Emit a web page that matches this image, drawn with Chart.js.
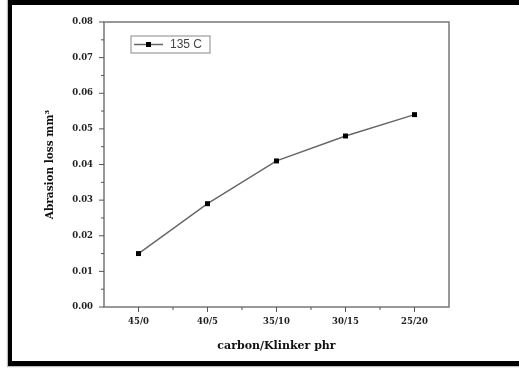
<!DOCTYPE html>
<html>
<head>
<meta charset="utf-8">
<script src="https://cdn.jsdelivr.net/npm/chart.js@4.4.1/dist/chart.umd.min.js"></script>
<style>
  html, body { margin: 0; padding: 0; background: #fff; }
  body { width: 519px; height: 378px; position: relative; overflow: hidden; }
  .frame {
    position: absolute; left: 8px; top: -10px; width: 600px; height: 376px;
    box-sizing: border-box;
    border-left: 4px solid #000; border-top: 15px solid #000; border-bottom: 5px solid #000;
    box-shadow: -1px 1px 1px #bbb;
  }
  #wrap { position: absolute; left: 0; top: 0; width: 519px; height: 378px; }
</style>
</head>
<body>
<div class="frame"></div>
<div id="wrap"><canvas id="chart"></canvas></div>
<script>
const categories = ['45/0', '40/5', '35/10', '30/15', '25/20']
const abrasionLoss = [0.015, 0.029, 0.041, 0.048, 0.054]
const yTicks = [0.00, 0.01, 0.02, 0.03, 0.04, 0.05, 0.06, 0.07, 0.08]
const seriesLabel = '135 C'

const tickFont = { family: 'DejaVu Serif', weight: 'bold', size: 8.5 }
const xTitleFont = { family: 'DejaVu Serif', weight: 'bold', size: 11 }
const yTitleFont = { family: 'DejaVu Serif', weight: 'bold', size: 10.5 }

// frame around the plot plus major/minor tick marks
const frameTicks = {
  id: 'frameTicks',
  afterDraw(chart) {
    const { ctx, chartArea: a, scales } = chart
    const x = scales.x, y = scales.y
    ctx.save()
    ctx.strokeStyle = '#777'
    ctx.lineWidth = 1.5
    ctx.strokeRect(a.left, a.top, a.right - a.left, a.bottom - a.top)
    ctx.lineWidth = 1
    ctx.strokeStyle = '#555'
    ctx.beginPath()
    yTicks.forEach((v, i) => {
      const py = y.getPixelForValue(v)
      ctx.moveTo(a.left, py); ctx.lineTo(a.left - 5, py)
      if (i < yTicks.length - 1) {
        const pm = y.getPixelForValue((v + yTicks[i + 1]) / 2)
        ctx.moveTo(a.left, pm); ctx.lineTo(a.left - 3, pm)
      }
    })
    categories.forEach((c, i) => {
      const px = x.getPixelForValue(i)
      ctx.moveTo(px, a.bottom); ctx.lineTo(px, a.bottom + 5)
      if (i < categories.length - 1) {
        const pm = (px + x.getPixelForValue(i + 1)) / 2
        ctx.moveTo(pm, a.bottom); ctx.lineTo(pm, a.bottom + 3)
      }
    })
    ctx.stroke()
    ctx.restore()
  }
}

// legend box drawn inside the plot, upper left
const innerLegend = {
  id: 'innerLegend',
  afterDraw(chart) {
    const { ctx, chartArea: a } = chart
    const ds = chart.data.datasets[0]
    const bx = a.left + 27, by = a.top + 14, bw = 79, bh = 17
    ctx.save()
    ctx.strokeStyle = '#888'
    ctx.lineWidth = 1
    ctx.strokeRect(bx, by, bw, bh)
    const my = by + bh / 2
    ctx.strokeStyle = ds.borderColor
    ctx.lineWidth = 1.5
    ctx.beginPath(); ctx.moveTo(bx + 3, my); ctx.lineTo(bx + 32, my); ctx.stroke()
    ctx.fillStyle = ds.pointBackgroundColor
    ctx.fillRect(bx + 15, my - 2.5, 5, 5)
    ctx.fillStyle = '#444'
    ctx.font = '12px "Liberation Sans", Arial, sans-serif'
    ctx.textBaseline = 'middle'
    ctx.fillText(ds.label, bx + 39, my + 0.5)
    ctx.restore()
  }
}

new Chart(document.getElementById('chart'), {
  type: 'line',
  data: {
    labels: categories,
    datasets: [{
      label: seriesLabel,
      data: abrasionLoss,
      borderColor: '#666',
      borderWidth: 1.4,
      pointStyle: 'rect',
      pointRadius: 3.5,
      pointBackgroundColor: '#000',
      pointBorderColor: '#000',
      pointBorderWidth: 0,
      tension: 0
    }]
  },
  options: {
    responsive: true,
    maintainAspectRatio: false,
    animation: false,
    layout: { padding: { left: 34, top: 22, right: 70, bottom: 0 } },
    plugins: { legend: { display: false }, tooltip: { enabled: false } },
    scales: {
      x: {
        type: 'category',
        offset: true,
        grid: { display: false, drawTicks: false },
        border: { display: false },
        ticks: { color: '#222', font: tickFont, padding: 10, maxRotation: 0 },
        title: { display: true, text: 'carbon/Klinker phr', color: '#111', font: xTitleFont, padding: { top: 0, bottom: 25 } },
        afterFit(s) { s.height = 71 }
      },
      y: {
        min: 0,
        max: 0.08,
        grid: { display: false, drawTicks: false },
        border: { display: false },
        ticks: {
          stepSize: 0.01,
          color: '#222',
          font: tickFont,
          padding: 11,
          callback: (v) => v.toFixed(2)
        },
        title: { display: true, text: 'Abrasion loss mm³', color: '#111', font: yTitleFont, padding: { top: 10, bottom: 0 } },
        afterFit(s) { s.width = 70 }
      }
    }
  },
  plugins: [frameTicks, innerLegend]
})
</script>
</body>
</html>
